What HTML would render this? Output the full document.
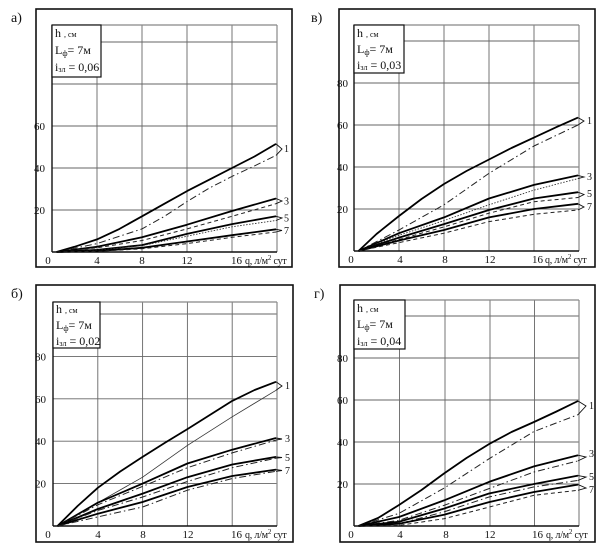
<!DOCTYPE html>
<html>
<head>
<meta charset="utf-8">
<style>
html,body{margin:0;padding:0;background:#fff;}
svg{display:block;}
text{font-family:"Liberation Serif","DejaVu Serif",serif;fill:#111;}
.t{font-size:11px;}
.q{font-size:10px;letter-spacing:-0.2px;}
.lg{font-size:12px;}
.sb{font-size:8px;}
.ttl{font-size:14px;}
.num{font-size:10px;}
.grid{stroke:#666;stroke-width:0.9;fill:none;}
.frame{stroke:#888;stroke-width:1.2;fill:none;}
.axis{stroke:#111;stroke-width:1.4;fill:none;}
.outer{stroke:#111;stroke-width:1.6;fill:none;}
.s{stroke:#000;stroke-width:1.8;fill:none;stroke-linejoin:round;}
.d1{stroke:#222;stroke-width:1;fill:none;stroke-dasharray:7 3 1.5 3;}
.d2{stroke:#222;stroke-width:1;fill:none;stroke-dasharray:4 3;}
.d3{stroke:#333;stroke-width:0.9;fill:none;stroke-dasharray:1.5 1.5;}
.thin{stroke:#333;stroke-width:0.8;fill:none;}
.br{stroke:#111;stroke-width:0.9;fill:none;}
.leg{fill:#fff;stroke:#111;stroke-width:1.2;}
</style>
</head>
<body>
<svg width="605" height="548" viewBox="0 0 605 548" xmlns="http://www.w3.org/2000/svg">
<rect width="605" height="548" fill="#fff"/>

<!-- ================= Panel а ================= -->
<text class="ttl" x="11" y="22">а)</text>
<rect class="outer" x="36" y="9" width="256" height="258"/>
<g class="grid">
<line x1="97" y1="25" x2="97" y2="252"/>
<line x1="142" y1="25" x2="142" y2="252"/>
<line x1="187" y1="25" x2="187" y2="252"/>
<line x1="232" y1="25" x2="232" y2="252"/>
<line x1="52" y1="210" x2="277" y2="210"/>
<line x1="52" y1="168" x2="277" y2="168"/>
<line x1="52" y1="126" x2="277" y2="126"/>
<line x1="52" y1="84" x2="277" y2="84"/>
<line x1="52" y1="42" x2="277" y2="42"/>
</g>
<line class="frame" x1="52" y1="25" x2="277" y2="25"/>
<line class="frame" x1="277" y1="25" x2="277" y2="252"/>
<line class="axis" x1="52" y1="25" x2="52" y2="252"/>
<line class="axis" x1="52" y1="252" x2="277" y2="252"/>
<rect class="leg" x="52" y="25" width="49" height="52"/>
<text class="lg" x="55" y="37">h <tspan class="sb">, см</tspan></text>
<text class="lg" x="55" y="54">L<tspan class="sb" dy="2">ф</tspan><tspan dy="-2">= 7м</tspan></text>
<text class="lg" x="55" y="71">i<tspan class="sb" dy="1">зл</tspan><tspan dy="-1"> = 0,06</tspan></text>
<g class="t" text-anchor="end">
<text x="45" y="214">20</text>
<text x="45" y="172">40</text>
<text x="45" y="130">60</text>
</g>
<g class="t" text-anchor="middle">
<text x="48" y="264">0</text>
<text x="97" y="264">4</text>
<text x="142" y="264">8</text>
<text x="187" y="264">12</text>
</g>
<text class="t" x="231" y="264">16</text>
<text class="q" x="245" y="264">q, л/м<tspan font-size="7" dy="-4">2</tspan><tspan dy="4"> сут</tspan></text>
<polyline class="s" points="56.5,252 74.5,246.8 97,239.4 119.5,228.9 142,216.3 164.5,203.7 187,191.1 209.5,179.6 232,168 254.5,156.5 276,143.9"/>
<polyline class="d1" points="56.5,252 97,243.6 142,228.9 164.5,216.3 187,201.6 209.5,188 232,176.4 254.5,165.9 276,155.4"/>
<polyline class="s" points="56.5,252 97,246.8 142,237.3 187,224.7 232,211 276,198.5"/>
<polyline class="d2" points="56.5,252 97,247.8 142,240.5 187,228.9 232,216.3 276,203.7"/>
<polyline class="s" points="56.5,252 97,249.9 142,245.1 187,233.9 232,224.1 276,216.3"/>
<polyline class="d3" points="56.5,252 97,250.3 142,245.7 187,236.2 232,226.8 276,220.5"/>
<polyline class="s" points="56.5,252 97,251 142,247.8 187,241.5 232,235.2 276,229.3"/>
<polyline class="d2" points="56.5,252 97,251.4 142,248.8 187,243.6 232,237.3 276,232"/>
<polyline class="br" points="276,143.9 282,149 276,155.4"/>
<polyline class="br" points="276,198.5 282,201 276,203.7"/>
<polyline class="br" points="276,216.3 282,218 276,220.5"/>
<polyline class="br" points="276,229.3 282,230.5 276,232"/>
<g class="num">
<text x="284" y="152">1</text>
<text x="284" y="204.5">3</text>
<text x="284" y="221.5">5</text>
<text x="284" y="234">7</text>
</g>

<!-- ================= Panel в ================= -->
<text class="ttl" x="311" y="22">в)</text>
<rect class="outer" x="339" y="9" width="256" height="258"/>
<g class="grid">
<line x1="399" y1="25" x2="399" y2="251"/>
<line x1="444" y1="25" x2="444" y2="251"/>
<line x1="489" y1="25" x2="489" y2="251"/>
<line x1="534" y1="25" x2="534" y2="251"/>
<line x1="354" y1="209" x2="579" y2="209"/>
<line x1="354" y1="167" x2="579" y2="167"/>
<line x1="354" y1="125" x2="579" y2="125"/>
<line x1="354" y1="83" x2="579" y2="83"/>
<line x1="354" y1="41" x2="579" y2="41"/>
</g>
<line class="frame" x1="354" y1="25" x2="579" y2="25"/>
<line class="frame" x1="579" y1="25" x2="579" y2="251"/>
<line class="axis" x1="354" y1="25" x2="354" y2="251"/>
<line class="axis" x1="354" y1="251" x2="579" y2="251"/>
<rect class="leg" x="354" y="25" width="50" height="48"/>
<text class="lg" x="357" y="37">h <tspan class="sb">, см</tspan></text>
<text class="lg" x="357" y="53">L<tspan class="sb" dy="2">ф</tspan><tspan dy="-2">= 7м</tspan></text>
<text class="lg" x="357" y="69">i<tspan class="sb" dy="1">зл</tspan><tspan dy="-1"> = 0,03</tspan></text>
<g class="t" text-anchor="end">
<text x="348" y="213">20</text>
<text x="348" y="171">40</text>
<text x="348" y="129">60</text>
<text x="348" y="87">80</text>
</g>
<g class="t" text-anchor="middle">
<text x="351" y="263">0</text>
<text x="400" y="263">4</text>
<text x="445" y="263">8</text>
<text x="490" y="263">12</text>
</g>
<text class="t" x="532" y="263">16</text>
<text class="q" x="545" y="263">q, л/м<tspan font-size="7" dy="-4">2</tspan><tspan dy="4"> сут</tspan></text>
<polyline class="s" points="358.5,251 376.5,234 399,216 421.5,199 444,184 466.5,171 489,159.5 511.5,148 534,137.6 556.5,127.1 578,117.6"/>
<polyline class="d1" points="358.5,251 399,230 444,204.8 489,173.3 534,146 578,125"/>
<polyline class="s" points="358.5,251 399,233.2 444,217.4 489,198.5 534,184.9 578,175.4"/>
<polyline class="d3" points="358.5,251 399,235.3 444,220.6 489,204.8 534,190.1 578,178.6"/>
<polyline class="s" points="358.5,251 399,237.6 444,224.1 489,210 534,198.5 578,192.2"/>
<polyline class="d2" points="358.5,251 399,239.5 444,226.9 489,213.2 534,201.7 578,197.5"/>
<polyline class="s" points="358.5,251 399,240.5 444,230 489,217.4 534,209 578,203.8"/>
<polyline class="d2" points="358.5,251 399,242.6 444,233.2 489,221.6 534,214.3 578,210"/>
<polyline class="br" points="578,117.6 584,121 578,125"/>
<polyline class="br" points="578,175.4 584,177 578,178.6"/>
<polyline class="br" points="578,192.2 584,194.5 578,197.5"/>
<polyline class="br" points="578,203.8 584,207 578,210"/>
<g class="num">
<text x="587" y="124">1</text>
<text x="587" y="180">3</text>
<text x="587" y="197">5</text>
<text x="587" y="210">7</text>
</g>

<!-- ================= Panel б ================= -->
<text class="ttl" x="11" y="298">б)</text>
<rect class="outer" x="36" y="285" width="257" height="257"/>
<g class="grid">
<line x1="97.8" y1="302" x2="97.8" y2="526"/>
<line x1="142.6" y1="302" x2="142.6" y2="526"/>
<line x1="187.4" y1="302" x2="187.4" y2="526"/>
<line x1="232.2" y1="302" x2="232.2" y2="526"/>
<line x1="53" y1="483.6" x2="277" y2="483.6"/>
<line x1="53" y1="441.2" x2="277" y2="441.2"/>
<line x1="53" y1="398.8" x2="277" y2="398.8"/>
<line x1="53" y1="356.4" x2="277" y2="356.4"/>
<line x1="53" y1="314" x2="277" y2="314"/>
</g>
<line class="frame" x1="53" y1="302" x2="277" y2="302"/>
<line class="frame" x1="277" y1="302" x2="277" y2="526"/>
<line class="axis" x1="53" y1="302" x2="53" y2="526"/>
<line class="axis" x1="53" y1="526" x2="277" y2="526"/>
<rect class="leg" x="53" y="302" width="47" height="46"/>
<text class="lg" x="56" y="313">h <tspan class="sb">, см</tspan></text>
<text class="lg" x="56" y="329">L<tspan class="sb" dy="2">ф</tspan><tspan dy="-2">= 7м</tspan></text>
<text class="lg" x="56" y="345">i<tspan class="sb" dy="1">зл</tspan><tspan dy="-1"> = 0,02</tspan></text>
<g class="t" text-anchor="end">
<text x="46" y="487.6">20</text>
<text x="46" y="445.2">40</text>
<text x="46" y="402.8">60</text>
<text x="46" y="360.4">80</text>
</g>
<g class="t" text-anchor="middle">
<text x="48" y="538">0</text>
<text x="98" y="538">4</text>
<text x="143" y="538">8</text>
<text x="188" y="538">12</text>
</g>
<text class="t" x="231" y="538">16</text>
<text class="q" x="245" y="538">q, л/м<tspan font-size="7" dy="-4">2</tspan><tspan dy="4"> сут</tspan></text>
<polyline class="s" points="57.5,526 77.6,506 97.8,487.8 120.2,471.5 142.6,456.9 165,442.7 187.4,429.1 209.8,415 232.2,400.9 254.6,390 276,381.8"/>
<polyline class="thin" points="57.5,526 97.8,502.7 142.6,477.2 187.4,445.4 232.2,416.8 276,390.3"/>
<polyline class="s" points="57.5,526 97.8,502.7 142.6,483.6 187.4,463.5 232.2,449.7 276,438"/>
<polyline class="d1" points="57.5,526 97.8,504.8 142.6,486.4 187.4,467.7 232.2,452.9 276,440.1"/>
<polyline class="s" points="57.5,526 97.8,509 142.6,493.6 187.4,477.2 232.2,464.5 276,456.9"/>
<polyline class="d1" points="57.5,526 97.8,510.5 142.6,497 187.4,481.5 232.2,467.7 276,458.2"/>
<polyline class="s" points="57.5,526 97.8,513.7 142.6,502 187.4,487 232.2,476 276,469.6"/>
<polyline class="d1" points="57.5,526 97.8,516.9 142.6,507 187.4,490.2 232.2,478.5 276,471.3"/>
<polyline class="br" points="276,381.8 282,386 276,390.3"/>
<polyline class="br" points="276,438 282,439 276,440.1"/>
<polyline class="br" points="276,456.9 282,457.5 276,458.2"/>
<polyline class="br" points="276,469.6 282,470.5 276,471.3"/>
<g class="num">
<text x="285" y="389">1</text>
<text x="285" y="442">3</text>
<text x="285" y="461">5</text>
<text x="285" y="474">7</text>
</g>

<!-- ================= Panel г ================= -->
<text class="ttl" x="314" y="298">г)</text>
<rect class="outer" x="340" y="285" width="255" height="257"/>
<g class="grid">
<line x1="399.5" y1="300" x2="399.5" y2="526"/>
<line x1="445" y1="300" x2="445" y2="526"/>
<line x1="490" y1="300" x2="490" y2="526"/>
<line x1="534.5" y1="300" x2="534.5" y2="526"/>
<line x1="354" y1="484" x2="579" y2="484"/>
<line x1="354" y1="442" x2="579" y2="442"/>
<line x1="354" y1="400" x2="579" y2="400"/>
<line x1="354" y1="358" x2="579" y2="358"/>
<line x1="354" y1="316" x2="579" y2="316"/>
</g>
<line class="frame" x1="354" y1="300" x2="579" y2="300"/>
<line class="frame" x1="579" y1="300" x2="579" y2="526"/>
<line class="axis" x1="354" y1="300" x2="354" y2="526"/>
<line class="axis" x1="354" y1="526" x2="579" y2="526"/>
<rect class="leg" x="354" y="300" width="51" height="49"/>
<text class="lg" x="357" y="312">h <tspan class="sb">, см</tspan></text>
<text class="lg" x="357" y="328">L<tspan class="sb" dy="2">ф</tspan><tspan dy="-2">= 7м</tspan></text>
<text class="lg" x="357" y="345">i<tspan class="sb" dy="1">зл</tspan><tspan dy="-1"> = 0,04</tspan></text>
<g class="t" text-anchor="end">
<text x="348" y="488">20</text>
<text x="348" y="446">40</text>
<text x="348" y="404">60</text>
<text x="348" y="362">80</text>
</g>
<g class="t" text-anchor="middle">
<text x="351" y="538">0</text>
<text x="400" y="538">4</text>
<text x="446" y="538">8</text>
<text x="490" y="538">12</text>
</g>
<text class="t" x="532" y="538">16</text>
<text class="q" x="546" y="538">q, л/м<tspan font-size="7" dy="-4">2</tspan><tspan dy="4"> сут</tspan></text>
<polyline class="s" points="358.5,526 378,518 399,505 421.5,490 444,473.5 466.5,458 489,444.1 511.5,432 534,422 556.5,411.5 578,401"/>
<polyline class="d1" points="358.5,526 399,513.4 444,488.2 489,458.8 534,431.5 578,414.7"/>
<polyline class="s" points="358.5,526 399,517 444,500.4 489,481.9 534,466.4 578,455.2"/>
<polyline class="d1" points="358.5,526 399,520.3 444,505.4 489,488.6 534,472 578,460.9"/>
<polyline class="s" points="358.5,526 399,521.8 444,508.6 489,493.5 534,484 578,475.6"/>
<polyline class="d1" points="358.5,526 399,523.7 444,511.9 489,497 534,486.9 578,480.4"/>
<polyline class="s" points="358.5,526 399,523.7 444,514.7 489,502.1 534,492 578,484.6"/>
<polyline class="d2" points="358.5,526 399,525.4 444,518.7 489,507.1 534,495.3 578,490.3"/>
<polyline class="br" points="578,401 586,406 578,414.7"/>
<polyline class="br" points="578,455.2 586,457 578,460.9"/>
<polyline class="br" points="578,475.6 586,477 578,480.4"/>
<polyline class="br" points="578,484.6 586,488 578,490.3"/>
<g class="num">
<text x="589" y="409">1</text>
<text x="589" y="457">3</text>
<text x="589" y="480">5</text>
<text x="589" y="493">7</text>
</g>
</svg>
</body>
</html>
